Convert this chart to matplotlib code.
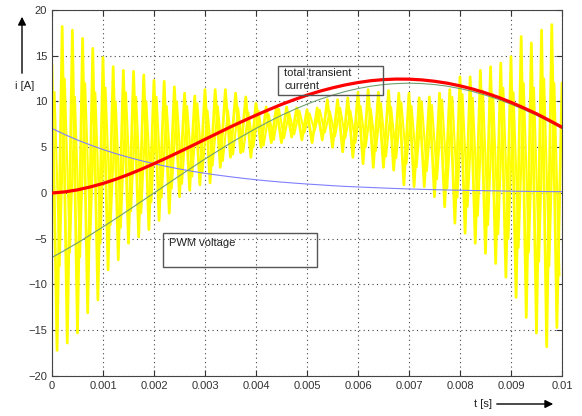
import matplotlib
matplotlib.use('Agg')
import matplotlib.pyplot as plt
import numpy as np
from matplotlib.patches import Rectangle, FancyArrowPatch

plt.rcParams['font.family'] = ['Liberation Sans', 'DejaVu Sans']

##-------------------------------------------------------------
# time base of the smooth curves [s]
t_curve = [k * 0.00025 for k in range(41)]

# total transient current (red)
i_total = [0.0, 0.12, 0.34, 0.66, 1.04, 1.50, 2.02, 2.59, 3.20, 3.84, 4.50,
           5.17, 5.86, 6.54, 7.22, 7.87, 8.50, 9.10, 9.68, 10.20, 10.69,
           11.12, 11.49, 11.81, 12.07, 12.27, 12.39, 12.45, 12.44, 12.36,
           12.21, 12.00, 11.71, 11.36, 10.94, 10.46, 9.91, 9.30, 8.66, 7.94,
           7.19]

# steady state part (green)
i_steady = [-7.05, -6.27, -5.45, -4.59, -3.71, -2.80, -1.88, -0.94, 0.0, 0.94,
            1.88, 2.80, 3.71, 4.59, 5.45, 6.27, 7.05, 7.79, 8.49, 9.12, 9.71,
            10.23, 10.69, 11.09, 11.41, 11.67, 11.85, 11.96, 12.0, 11.96,
            11.85, 11.67, 11.41, 11.09, 10.69, 10.23, 9.71, 9.12, 8.49, 7.79,
            7.05]

# decaying dc part (blue)
i_dc = [7.05, 6.39, 5.79, 5.25, 4.75, 4.30, 3.90, 3.53, 3.20, 2.90, 2.62,
        2.37, 2.15, 1.95, 1.77, 1.60, 1.45, 1.31, 1.19, 1.08, 0.98, 0.89,
        0.80, 0.72, 0.66, 0.60, 0.54, 0.49, 0.44, 0.40, 0.36, 0.33, 0.30,
        0.27, 0.25, 0.23, 0.20, 0.18, 0.17, 0.15, 0.14]

# PWM voltage (yellow): big spikes
t_peak = [k * 0.0002 for k in range(51)]
pwm_peak = [14.0, 18.2, 17.8, 16.9, 15.8, 14.8, 13.8, 13.4, 13.3, 12.9, 12.3,
            12.2, 11.6, 10.9, 10.6, 11.3, 11.3, 11.3, 10.9, 10.5, 9.8, 9.4,
            9.4, 9.4, 9.3, 9.1, 9.3, 10.2, 10.2, 10.4, 11.0, 11.3, 11.0, 11.2,
            10.9, 10.9, 10.4, 10.5, 10.9, 11.3, 12.7, 12.7, 13.4, 13.8, 14.2,
            14.9, 17.1, 16.4, 17.8, 18.4, 12.0]
t_trough = [0.0001 + k * 0.0002 for k in range(50)]
pwm_trough = [-17.2, -16.4, -15.3, -13.1, -11.7, -8.4, -7.3, -5.5, -4.8, -4.0,
              -3.0, -2.2, -0.4, 0.3, 0.9, 1.1, 2.8, 3.9, 4.4, 3.9, 5.0, 5.5,
              5.5, 6.1, 5.8, 5.5, 5.8, 5.0, 4.5, 3.9, 3.2, 2.8, 2.8, 2.5, 0.9,
              0.7, 0.7, -0.4, -1.5, -3.3, -4.4, -5.5, -6.6, -7.7, -9.2, -11.4,
              -13.6, -15.3, -16.8, -14.7]

# PWM voltage (yellow): smaller spikes in between
t_inner_peak = [0.00005 + k * 0.0002 for k in range(50)]
inner_peak = [11.0, 12.5, 10.5, 12.0, 11.0, 11.5, 10.0, 11.0, 10.5, 10.0,
              10.5, 9.5, 10.0, 9.5, 9.8, 9.0, 9.5, 9.0, 9.3, 8.8,
              9.0, 8.6, 9.2, 8.8, 9.0, 8.7, 9.1, 8.9, 9.3, 9.0,
              9.5, 9.2, 9.8, 9.4, 9.9, 9.5, 10.0, 9.6, 10.2, 10.5,
              10.8, 10.4, 11.2, 10.8, 11.5, 11.0, 12.0, 11.5, 12.5, 12.0]
t_inner_trough = [0.00015 + k * 0.0002 for k in range(50)]
inner_trough = [-8.0, -6.5, -7.0, -5.0, -5.5, -3.5, -3.8, -2.0, -2.2, -1.0,
                -0.5, 0.5, 1.0, 1.8, 2.2, 3.0, 3.5, 4.2, 4.5, 5.0,
                5.2, 5.8, 6.0, 6.4, 6.6, 6.8, 6.6, 6.2, 6.0, 5.5,
                5.0, 4.6, 4.0, 3.8, 3.2, 2.8, 2.4, 1.5, 0.5, -0.5,
                -1.5, -2.5, -3.5, -4.5, -5.0, -6.0, -6.5, -7.5, -8.0, -9.0]

xticks = [0, 0.001, 0.002, 0.003, 0.004, 0.005, 0.006, 0.007, 0.008, 0.009, 0.01]
xticklabels = ['0', '0.001', '0.002', '0.003', '0.004', '0.005', '0.006',
               '0.007', '0.008', '0.009', '0.01']
yticks = [-20, -15, -10, -5, 0, 5, 10, 15, 20]
##-------------------------------------------------------------


def zigzag(t_hi, v_hi, t_lo, v_lo):
    """merge two sorted point lists into one line"""
    t = np.concatenate([t_hi, t_lo])
    v = np.concatenate([v_hi, v_lo])
    order = np.argsort(t)
    return t[order], v[order]


fig = plt.figure(figsize=(5.82, 4.16), dpi=100)
ax = fig.add_axes([0.0893, 0.0962, 0.8763, 0.8798])

tz, vz = zigzag(t_inner_peak, inner_peak, t_inner_trough, inner_trough)
ax.plot(tz, vz, color='#ffff00', lw=1.5, zorder=1.4)
tz, vz = zigzag(t_peak, pwm_peak, t_trough, pwm_trough)
ax.plot(tz, vz, color='#ffff00', lw=2.0, zorder=1.5)

ax.plot(t_curve, i_dc, color='#7f7fff', lw=0.8, zorder=2)
ax.plot(t_curve, i_steady, color='#6fa06f', lw=0.8, zorder=2)
ax.plot(t_curve, i_total, color='#ff0000', lw=2.3, zorder=3)

ax.set_xlim(0, 0.01)
ax.set_ylim(-20, 20)
ax.set_xticks(xticks)
ax.set_xticklabels(xticklabels)
ax.set_yticks(yticks)
ax.tick_params(direction='in', labelsize=8, colors='#333333', length=4,
               top=True, right=True, labelcolor='#333333')
ax.grid(True, linestyle=(0, (1, 3)), color='#444444', lw=0.8)
ax.set_axisbelow(True)
for s in ax.spines.values():
    s.set_color('#444444')
    s.set_linewidth(0.8)

# label boxes
ax.add_patch(Rectangle((0.443, 0.768), 0.206, 0.079, transform=ax.transAxes,
                       fill=False, ec='#555555', lw=1.0, zorder=4))
ax.text(0.455, 0.842, 'total transient\ncurrent', transform=ax.transAxes,
        fontsize=8, va='top', ha='left', color='#222222', linespacing=1.4, zorder=4)
ax.add_patch(Rectangle((0.218, 0.298), 0.302, 0.093, transform=ax.transAxes,
                       fill=False, ec='#555555', lw=1.0, zorder=4))
ax.text(0.229, 0.363, 'PWM voltage', transform=ax.transAxes,
        fontsize=8, va='center', ha='left', color='#222222', zorder=4)

# axis names with arrows
fig.text(25 / 582, 1 - 86 / 416, 'i [A]', fontsize=8, ha='center', va='center',
         color='#222222')
fig.add_artist(FancyArrowPatch(
    (22 / 582, 1 - 76 / 416), (22 / 582, 1 - 14 / 416), transform=fig.transFigure,
    arrowstyle='-|>', mutation_scale=12, color='black', lw=1.0))
fig.text(483 / 582, 1 - 404 / 416, 't [s]', fontsize=8, ha='center', va='center',
         color='#222222')
fig.add_artist(FancyArrowPatch(
    (494 / 582, 1 - 404 / 416), (556 / 582, 1 - 404 / 416), transform=fig.transFigure,
    arrowstyle='-|>', mutation_scale=12, color='black', lw=1.0))

plt.savefig('out.png', dpi=100)
